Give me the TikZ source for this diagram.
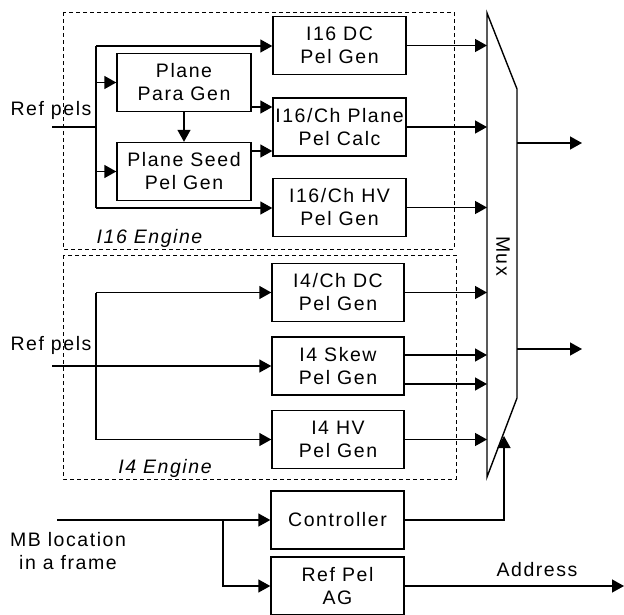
\documentclass[tikz,border=0pt]{standalone}
\usepackage{fontspec}
\setmainfont{Liberation Sans}[LetterSpace=8]
\usetikzlibrary{arrows.meta,calc}
\begin{document}
\begin{tikzpicture}[x=1pt,y=-1pt,
 every node/.style={font=\fontsize{19.5}{23}\selectfont},
 blk/.style={draw, line width=1.4pt, inner sep=0pt, align=center, minimum width=133pt, minimum height=58pt},
 arr/.style={line width=1.4pt, -{Triangle[length=12pt,width=13pt]}},
 ln/.style={line width=1.4pt},
 dbox/.style={draw, line width=1pt, dash pattern=on 4pt off 3pt},
 itl/.style={font=\fontsize{19.5}{23}\selectfont\itshape}
]
\useasboundingbox (0,0) rectangle (624,614);
% dashed engine frames
\draw[dbox] (63,12) rectangle (454,249);
\draw[dbox] (63,255) rectangle (456,479);
% blocks
\node[blk] (dc16) at (339.5,45.5) {I16 DC\\Pel Gen};
\node[blk] (pl16) at (339.5,127) {I16/Ch Plane\\Pel Calc};
\node[blk] (hv16) at (339.5,207.5) {I16/Ch HV\\Pel Gen};
\node[blk, minimum width=134pt] (ppg) at (184,82.5) {Plane\\Para Gen};
\node[blk, minimum width=134pt] (psg) at (184,171.5) {Plane Seed\\Pel Gen};
\node[blk, minimum width=132pt] (dc4) at (338,292.5) {I4/Ch DC\\Pel Gen};
\node[blk, minimum width=132pt] (sk4) at (338,366) {I4 Skew\\Pel Gen};
\node[blk, minimum width=132pt] (hv4) at (338,439.5) {I4 HV\\Pel Gen};
\node[blk] (ctrl) at (337.5,520) {Controller};
\node[blk] (ag) at (337.5,586) {Ref Pel\\AG};
% labels
\node (rp1) at (51,110) {Ref pels};
\node (rp2) at (51,345) {Ref pels};
\node[align=center] (mb) at (68,551) {MB location\\in a frame};
\node[itl] (e16) at (149.5,238) {I16 Engine};
\node[itl] (e4) at (165,468) {I4 Engine};
\node (addrlbl) at (537,570) {Address};
% mux
\coordinate (m1) at (487,13);
\coordinate (m2) at (517,89);
\coordinate (m3) at (517,398);
\coordinate (m4) at (487,477);
\draw[line width=1.4pt, line join=miter] (m1) -- (m2) -- (m3) -- (m4) -- cycle;
\node[rotate=-90] (muxlbl) at (503,256) {Mux};
% I16 input bus
\coordinate (in16) at (52,127);
\coordinate (b16m) at (96,127);
\coordinate (b16t) at (96,46);
\coordinate (b16b) at (96,208);
\draw[ln] (in16) -- (b16m);
\draw[ln] (b16t) -- (b16b);
\draw[arr] (b16t) -- (b16t -| dc16.west);
\draw[arr] (b16t |- ppg.west) -- (ppg.west);
\draw[arr] (b16t |- psg.west) -- (psg.west);
\draw[arr] (b16b) -- (b16b -| hv16.west);
\coordinate (a1) at ($(ppg.east)+(0,24.5)$);
\coordinate (a2) at ($(psg.east)+(0,-20.5)$);
\draw[arr] (a1) -- (a1 -| pl16.west);
\draw[arr] (a2) -- (a2 -| pl16.west);
\draw[arr] (ppg.south) -- (psg.north);
% I4 input bus
\coordinate (in4) at (52,366);
\coordinate (b4t) at (96,292.5);
\coordinate (b4b) at (96,439.5);
\draw[ln] (b4t) -- (b4b);
\draw[arr] (in4) -- (sk4.west);
\draw[arr] (b4t) -- (dc4.west);
\draw[arr] (b4b) -- (hv4.west);
% outputs to mux
\draw[arr] (dc16.east) -- (dc16.east -| m1);
\draw[arr] (pl16.east) -- (pl16.east -| m1);
\draw[arr] (hv16.east) -- (hv16.east -| m1);
\draw[arr] (dc4.east) -- (dc4.east -| m1);
\coordinate (s1) at ($(sk4.east)+(0,-11)$);
\coordinate (s2) at ($(sk4.east)+(0,18)$);
\draw[arr] (s1) -- (s1 -| m1);
\draw[arr] (s2) -- (s2 -| m1);
\draw[arr] (hv4.east) -- (hv4.east -| m1);
% mux outputs
\coordinate (o1) at (517,143);
\coordinate (o1e) at (582,143);
\coordinate (o2) at (517,349);
\coordinate (o2e) at (582,349);
\draw[arr] (o1) -- (o1e);
\draw[arr] (o2) -- (o2e);
% controller
\coordinate (cm) at (504,520);
\coordinate (ctip) at (504,436);
\draw[arr] (ctrl.east) -- (cm) -- (ctip);
\coordinate (mbin) at (57,520);
\coordinate (br) at (223,520);
\draw[arr] (mbin) -- (ctrl.west);
\draw[arr] (br) |- (ag.west);
\coordinate (addr) at (624,586);
\draw[arr] (ag.east) -- (addr);
\end{tikzpicture}
\end{document}
